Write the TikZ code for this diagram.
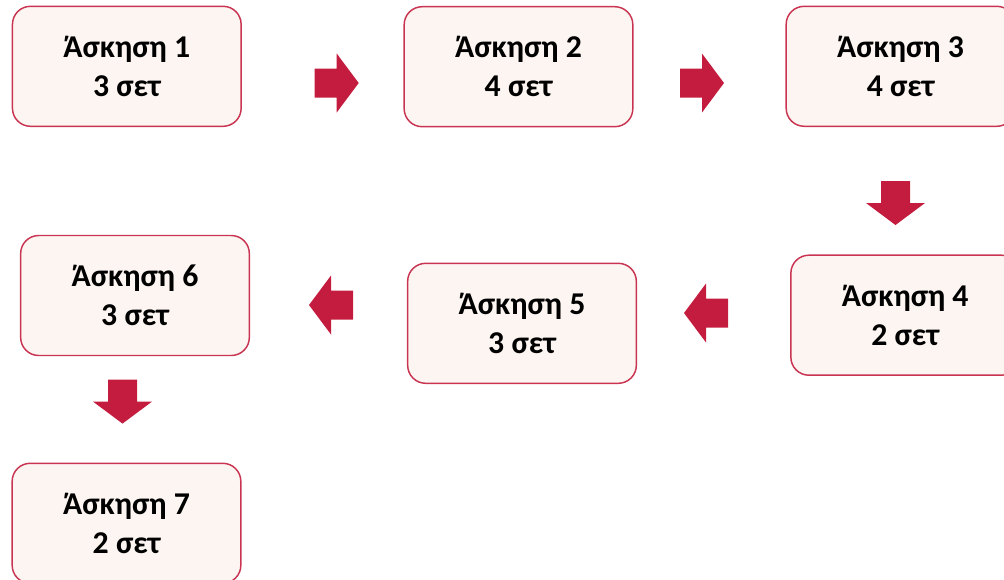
\documentclass[tikz,border=0pt]{standalone}
\usepackage{fontspec}
\setmainfont{Carlito}
\definecolor{boxfill}{RGB}{253,245,241}
\definecolor{boxline}{RGB}{200,52,82}
\definecolor{arrowred}{RGB}{196,28,62}
\tikzset{
  exercise/.style={draw=boxline, line width=1.1pt, fill=boxfill,
    rounded corners=13.5pt, minimum width=171.5pt, minimum height=90pt,
    align=center, inner sep=0pt,
    font=\bfseries\fontsize{23.8}{29.2}\selectfont},
  flowarrow/.style={fill=arrowred, draw=none}
}
% block arrow pointing along angle #2, centred at #1 (pixel units)
\newcommand{\blockarrow}[2]{%
  \fill[flowarrow, shift={#1}, rotate=#2]
    (-22,-14.5) -- (0,-14.5) -- (0,-29.5) -- (22,0) -- (0,29.5) -- (0,14.5)
    -- (-22,14.5) -- cycle;}
\begin{document}
\begin{tikzpicture}[x=0.75pt, y=-0.75pt]
  \useasboundingbox (0,0) rectangle (1004,579);
  \clip (0,0) rectangle (1004,579);
  \node[exercise] (b1) at (126.8,66.3) {Άσκηση 1\\3 σετ};
  \node[exercise] (b2) at (518.5,66.7) {Άσκηση 2\\4 σετ};
  \node[exercise] (b3) at (900.5,66.3) {Άσκηση 3\\4 σετ};
  \node[exercise] (b4) at (905.2,315.2) {Άσκηση 4\\2 σετ};
  \node[exercise] (b5) at (522.0,323.3) {Άσκηση 5\\3 σετ};
  \node[exercise] (b6) at (135.0,295.5) {Άσκηση 6\\3 σετ};
  \node[exercise] (b7) at (126.5,523.3) {Άσκηση 7\\2 σετ};
  % arrows between consecutive exercises
  \blockarrow{(336.7,83)}{0}
  \blockarrow{(702,83)}{0}
  \blockarrow{(895.5,203)}{-90}
  \blockarrow{(706,313)}{180}
  \blockarrow{(331,305)}{180}
  \blockarrow{(122.5,401.6)}{-90}
\end{tikzpicture}
\end{document}
